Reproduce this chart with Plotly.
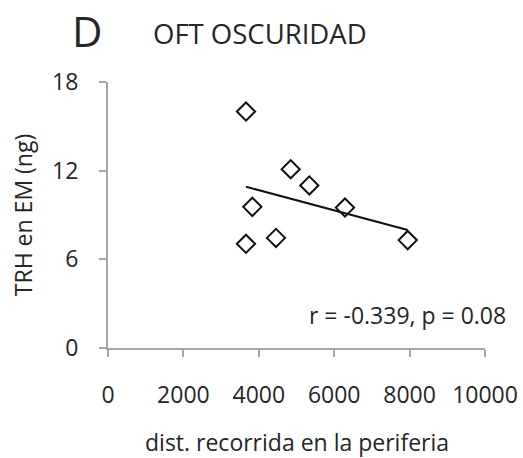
import numpy as np
import plotly.graph_objects as go

# Data
dist = [3660, 4846, 5340, 3828, 6286, 7950, 4456, 3660]
trh = [16.0, 12.1, 11.0, 9.55, 9.5, 7.3, 7.45, 7.05]
x_ticks = [0, 2000, 4000, 6000, 8000, 10000]
y_ticks = [0, 6, 12, 18]
stat_text = "r = -0.339, p = 0.08"
x_title = "dist. recorrida en la periferia"
y_title = "TRH en EM (ng)"

slope, intercept = np.polyfit(dist, trh, 1)
x_fit = [min(dist), max(dist)]
y_fit = [slope * v + intercept for v in x_fit]

FONT = "Open Sans"
TXT = "#262626"
AX = "#a6a6a6"
FS = 23

fig = go.Figure()
fig.add_trace(go.Scatter(x=x_fit, y=y_fit, mode="lines",
                         line=dict(color="#111111", width=2), showlegend=False,
                         hoverinfo="skip"))
fig.add_trace(go.Scatter(x=dist, y=trh, mode="markers",
                         marker=dict(symbol="diamond-open", size=14,
                                     line=dict(color="#111111", width=2),
                                     color="#111111"),
                         showlegend=False))

fig.update_layout(
    width=523, height=458,
    margin=dict(l=108, r=38, t=82, b=110),
    paper_bgcolor="white", plot_bgcolor="white",
    font=dict(family=FONT, color=TXT, size=FS),
    xaxis=dict(range=[0, 10000], tickvals=x_ticks, ticktext=[str(v) for v in x_ticks],
               showgrid=False, zeroline=False, showline=True, linecolor=AX, linewidth=2,
               ticks="outside", ticklen=7, tickwidth=2, tickcolor=AX,
               ticklabelstandoff=18, automargin=False,
               tickfont=dict(size=FS, color=TXT, family=FONT)),
    yaxis=dict(range=[0, 18], tickvals=y_ticks, ticktext=[str(v) for v in y_ticks],
               showgrid=False, zeroline=False, showline=True, linecolor=AX, linewidth=2,
               ticks="outside", ticklen=7, tickwidth=2, tickcolor=AX,
               ticklabelstandoff=16, automargin=False,
               tickfont=dict(size=FS, color=TXT, family=FONT),
               title=dict(text=y_title, standoff=13,
                          font=dict(size=FS, color=TXT, family=FONT))),
    annotations=[
        dict(text="D", x=-0.101, y=1.195, xref="paper", yref="paper", showarrow=False,
             xanchor="left", yanchor="middle",
             font=dict(size=42, color=TXT, family=FONT)),
        dict(text="OFT OSCURIDAD", xref="paper", yref="paper", showarrow=False,
             x=0.115, y=1.184, xanchor="left", yanchor="middle",
             font=dict(size=27.5, color=TXT, family=FONT)),
        dict(text=stat_text, xref="paper", yref="paper", x=1.061, y=0.124,
             xanchor="right", yanchor="middle", showarrow=False,
             font=dict(size=FS, color=TXT, family=FONT)),
        dict(text=x_title, xref="paper", yref="paper", x=0.5, y=-0.355,
             xanchor="center", yanchor="middle", showarrow=False,
             font=dict(size=FS, color=TXT, family=FONT)),
    ],
)

fig.write_html("out.html")
